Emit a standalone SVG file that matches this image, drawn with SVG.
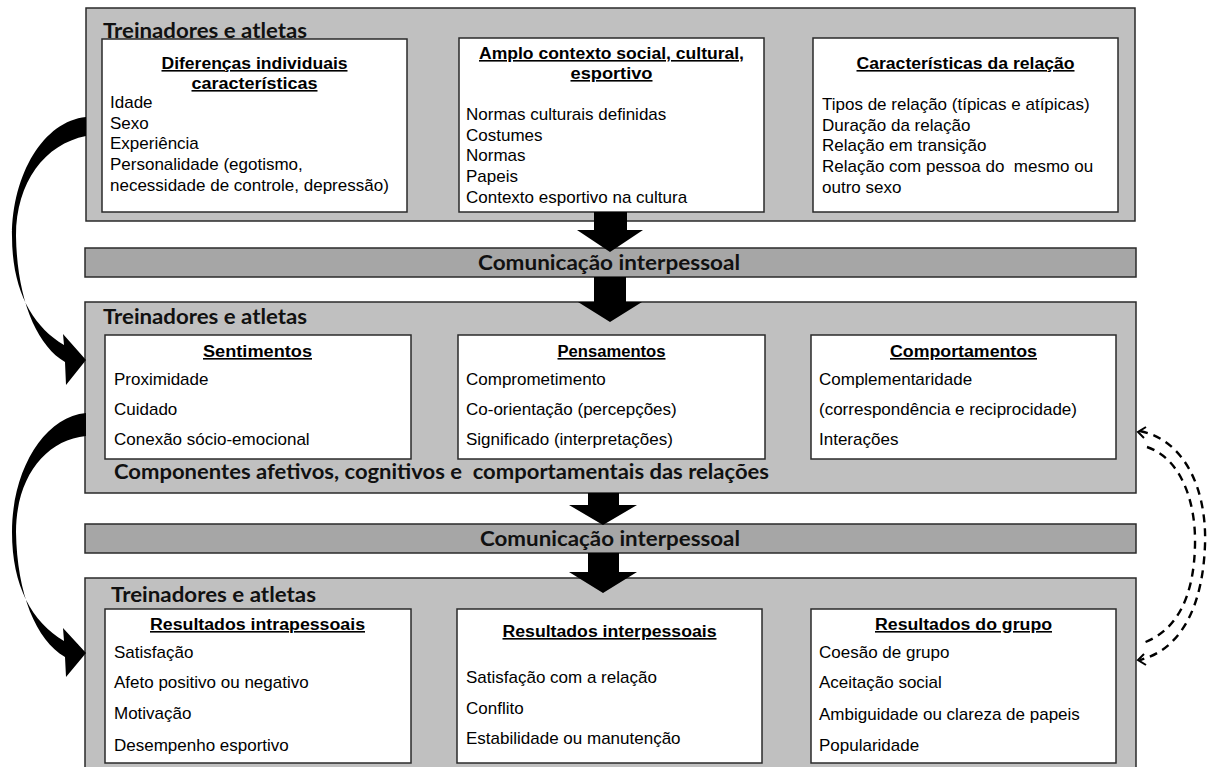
<svg xmlns="http://www.w3.org/2000/svg" width="1208" height="767" viewBox="0 0 1208 767">
<style>
.outer{fill:#c0c0c0;stroke:#2a2a2a;stroke-width:1.5}
.bar{fill:#a6a6a6;stroke:#2a2a2a;stroke-width:1.5}
.inner{fill:#fff;stroke:#2a2a2a;stroke-width:1.5}
.hdr{font-family:Lato,"Liberation Sans",sans-serif;font-weight:700;font-size:20px;fill:#111}
.ttl{font-family:"Liberation Sans",Arial,sans-serif;font-weight:700;font-size:16px;fill:#000;text-decoration:underline;text-anchor:middle}
.itm{font-family:"Liberation Sans",Arial,sans-serif;font-size:17px;fill:#000}
.blk{fill:#000}
.dash{fill:none;stroke:#000;stroke-width:2.4;stroke-dasharray:8 6}
</style>

<g id="top-section">
<rect class="outer" x="86" y="8" width="1049" height="213"/>
<text class="hdr" x="103" y="38" textLength="204" lengthAdjust="spacingAndGlyphs">Treinadores e atletas</text>
</g>
<g id="node-diferencas">
<rect class="inner" x="102" y="39" width="305" height="173"/>
<text class="ttl" x="254.5" y="69" textLength="186" lengthAdjust="spacingAndGlyphs">Diferenças individuais</text>
<text class="ttl" x="254.5" y="89" textLength="126" lengthAdjust="spacingAndGlyphs">características</text>
<text class="itm" x="110" y="108">Idade</text>
<text class="itm" x="110" y="129">Sexo</text>
<text class="itm" x="110" y="149">Experiência</text>
<text class="itm" x="110" y="170">Personalidade (egotismo,</text>
<text class="itm" x="110" y="191">necessidade de controle, depressão)</text>
</g>
<g id="node-contexto">
<rect class="inner" x="459" y="38" width="305" height="174"/>
<text class="ttl" x="611.5" y="59" textLength="265" lengthAdjust="spacingAndGlyphs">Amplo contexto social, cultural,</text>
<text class="ttl" x="611.5" y="79" textLength="82" lengthAdjust="spacingAndGlyphs">esportivo</text>
<text class="itm" x="466" y="120">Normas culturais definidas</text>
<text class="itm" x="466" y="141">Costumes</text>
<text class="itm" x="466" y="161">Normas</text>
<text class="itm" x="466" y="182">Papeis</text>
<text class="itm" x="466" y="203">Contexto esportivo na cultura</text>
</g>
<g id="node-caracteristicas">
<rect class="inner" x="813" y="38" width="305" height="174"/>
<text class="ttl" x="965.5" y="69" textLength="218" lengthAdjust="spacingAndGlyphs">Características da relação</text>
<text class="itm" x="822" y="110">Tipos de relação (típicas e atípicas)</text>
<text class="itm" x="822" y="131">Duração da relação</text>
<text class="itm" x="822" y="151">Relação em transição</text>
<text class="itm" x="822" y="172" xml:space="preserve">Relação com pessoa do  mesmo ou</text>
<text class="itm" x="822" y="193">outro sexo</text>
</g>

<g id="bar-comunicacao-1">
<rect class="bar" x="85" y="248" width="1051" height="29"/>
<text class="hdr" x="478" y="270" textLength="262" lengthAdjust="spacingAndGlyphs">Comunicação interpessoal</text>
</g>

<g id="middle-section">
<rect class="outer" x="85" y="302" width="1051" height="191"/>
<text class="hdr" x="103" y="324" textLength="204" lengthAdjust="spacingAndGlyphs">Treinadores e atletas</text>
<text class="hdr" x="114" y="479" textLength="655" lengthAdjust="spacingAndGlyphs" xml:space="preserve">Componentes afetivos, cognitivos e  comportamentais das relações</text>
</g>
<g id="node-sentimentos">
<rect class="inner" x="105" y="335" width="306" height="124"/>
<text class="ttl" x="257.5" y="357" textLength="109" lengthAdjust="spacingAndGlyphs">Sentimentos</text>
<text class="itm" x="114" y="385">Proximidade</text>
<text class="itm" x="114" y="415">Cuidado</text>
<text class="itm" x="114" y="445">Conexão sócio-emocional</text>
</g>
<g id="node-pensamentos">
<rect class="inner" x="458" y="335" width="307" height="124"/>
<text class="ttl" x="611.5" y="357" textLength="108" lengthAdjust="spacingAndGlyphs">Pensamentos</text>
<text class="itm" x="466" y="385">Comprometimento</text>
<text class="itm" x="466" y="415">Co-orientação (percepções)</text>
<text class="itm" x="466" y="445">Significado (interpretações)</text>
</g>
<g id="node-comportamentos">
<rect class="inner" x="811" y="335" width="305" height="124"/>
<text class="ttl" x="963.5" y="357" textLength="147" lengthAdjust="spacingAndGlyphs">Comportamentos</text>
<text class="itm" x="819" y="385">Complementaridade</text>
<text class="itm" x="819" y="415">(correspondência e reciprocidade)</text>
<text class="itm" x="819" y="445">Interações</text>
</g>

<g id="bar-comunicacao-2">
<rect class="bar" x="85" y="524" width="1051" height="29"/>
<text class="hdr" x="480" y="546" textLength="260" lengthAdjust="spacingAndGlyphs">Comunicação interpessoal</text>
</g>

<g id="bottom-section">
<rect class="outer" x="85" y="578" width="1051" height="200"/>
<text class="hdr" x="111" y="602" textLength="205" lengthAdjust="spacingAndGlyphs">Treinadores e atletas</text>
</g>
<g id="node-intrapessoais">
<rect class="inner" x="105" y="609" width="306" height="154"/>
<text class="ttl" x="257.5" y="630" textLength="215" lengthAdjust="spacingAndGlyphs">Resultados intrapessoais</text>
<text class="itm" x="114" y="658">Satisfação</text>
<text class="itm" x="114" y="688">Afeto positivo ou negativo</text>
<text class="itm" x="114" y="719">Motivação</text>
<text class="itm" x="114" y="751">Desempenho esportivo</text>
</g>
<g id="node-interpessoais">
<rect class="inner" x="457" y="609" width="305" height="154"/>
<text class="ttl" x="609.5" y="637" textLength="214" lengthAdjust="spacingAndGlyphs">Resultados interpessoais</text>
<text class="itm" x="466" y="683">Satisfação com a relação</text>
<text class="itm" x="466" y="714">Conflito</text>
<text class="itm" x="466" y="744">Estabilidade ou manutenção</text>
</g>
<g id="node-grupo">
<rect class="inner" x="811" y="609" width="305" height="154"/>
<text class="ttl" x="963.5" y="630" textLength="177" lengthAdjust="spacingAndGlyphs">Resultados do grupo</text>
<text class="itm" x="819" y="658">Coesão de grupo</text>
<text class="itm" x="819" y="688">Aceitação social</text>
<text class="itm" x="819" y="720">Ambiguidade ou clareza de papeis</text>
<text class="itm" x="819" y="751">Popularidade</text>
</g>

<g id="connectors">
<path class="blk" d="M594,212 H627 V230 H643 L610,252 L577,230 H594 Z"/>
<path class="blk" d="M594,277 H626 V302 H642 L610,322 L578,302 H594 Z"/>
<path class="blk" d="M588,493 H619 V505 H637 L603,525 L569,505 H588 Z"/>
<path class="blk" d="M588,553 H619 V572 H637 L603,593 L569,572 H588 Z"/>
<path class="blk" d="M86,117 C44,121 12,174 12,236 C12,290 32,326 64,345 L63,334 L86,360 L66,385 L65,362 C36,345 17,298 16,236 C16,182 45,144 86,136 Z"/>
<path class="blk" d="M86,413 C44,417 12,470 12,532 C12,586 32,622 64,641 L63,628 L86,653 L66,677 L65,657 C36,640 17,594 16,532 C16,478 45,440 86,436 Z"/>
<path class="dash" d="M1140,431 C1185,440 1207,490 1205,545 C1203,600 1185,648 1140,660"/>
<path class="dash" d="M1147,447 C1180,458 1196,500 1195,545 C1194,595 1178,632 1140,644"/>
<path fill="none" stroke="#000" stroke-width="2" d="M1146,427 L1138,432 L1144,438"/>
<path fill="none" stroke="#000" stroke-width="2" d="M1144,654 L1138,660 L1146,665"/>
</g>
</svg>
